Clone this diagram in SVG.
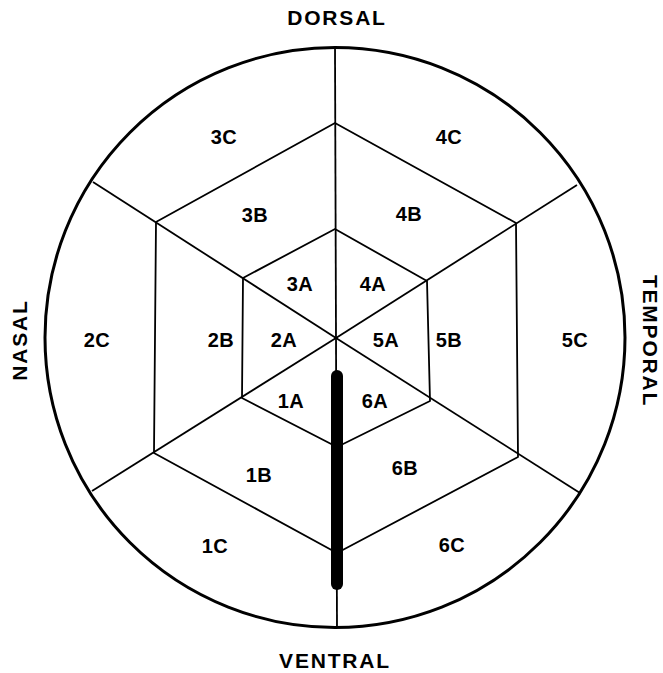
<svg xmlns="http://www.w3.org/2000/svg" width="663" height="673" viewBox="0 0 663 673">
<style>
.ln{stroke:#000;stroke-width:1.8;fill:none;stroke-linejoin:round}
.rim{stroke:#000;stroke-width:3;fill:none}
.bar{stroke:#000;stroke-width:12;stroke-linecap:round}
.lbl{font-family:"Liberation Sans",Arial,sans-serif;font-weight:bold;font-size:20px;fill:#000;text-anchor:middle;letter-spacing:0.5px}
.dir{font-family:"Liberation Sans",Arial,sans-serif;font-weight:bold;font-size:21px;fill:#000;text-anchor:middle;letter-spacing:1.8px}
</style>
<rect width="663" height="673" fill="#fff"/>
<g id="connectors">
<circle id="rim" class="rim" cx="335" cy="337.5" r="290"/>
<line class="ln" x1="335" y1="47" x2="337" y2="628"/>
<polygon id="inner-hex" class="ln" points="335,229 427,281 430,401 337,447 242,398 243,278"/>
<polygon id="middle-hex" class="ln" points="335,123 516,223 518,457 337,553 154,453 156,222"/>
<line class="ln" x1="336" y1="338" x2="93" y2="182"/>
<line class="ln" x1="336" y1="338" x2="577" y2="185"/>
<line class="ln" x1="336" y1="338" x2="580" y2="493"/>
<line class="ln" x1="336" y1="338" x2="92" y2="491"/>
<line id="probe" class="bar" x1="337" y1="376" x2="337" y2="584"/>
</g>
<g id="cells">
<g id="n3C"><text class="lbl" x="224" y="144">3C</text></g>
<g id="n4C"><text class="lbl" x="449" y="144">4C</text></g>
<g id="n3B"><text class="lbl" x="255" y="222">3B</text></g>
<g id="n4B"><text class="lbl" x="409" y="221">4B</text></g>
<g id="n3A"><text class="lbl" x="300" y="291">3A</text></g>
<g id="n4A"><text class="lbl" x="373" y="291">4A</text></g>
<g id="n2C"><text class="lbl" x="97" y="347">2C</text></g>
<g id="n2B"><text class="lbl" x="221" y="347">2B</text></g>
<g id="n2A"><text class="lbl" x="284" y="347">2A</text></g>
<g id="n5A"><text class="lbl" x="386" y="347">5A</text></g>
<g id="n5B"><text class="lbl" x="449" y="347">5B</text></g>
<g id="n5C"><text class="lbl" x="575" y="347">5C</text></g>
<g id="n1A"><text class="lbl" x="291" y="408">1A</text></g>
<g id="n6A"><text class="lbl" x="375" y="408">6A</text></g>
<g id="n1B"><text class="lbl" x="259" y="482">1B</text></g>
<g id="n6B"><text class="lbl" x="405" y="475">6B</text></g>
<g id="n1C"><text class="lbl" x="215" y="553">1C</text></g>
<g id="n6C"><text class="lbl" x="452" y="552">6C</text></g>
</g>
<g id="directions">
<g id="dorsal"><text class="dir" x="337" y="25">DORSAL</text></g>
<g id="ventral"><text class="dir" x="335" y="668">VENTRAL</text></g>
<g id="nasal"><text class="dir" transform="translate(27,340) rotate(-90)" x="0" y="0">NASAL</text></g>
<g id="temporal"><text class="dir" transform="translate(643,341) rotate(90)" x="0" y="0">TEMPORAL</text></g>
</g>
</svg>
